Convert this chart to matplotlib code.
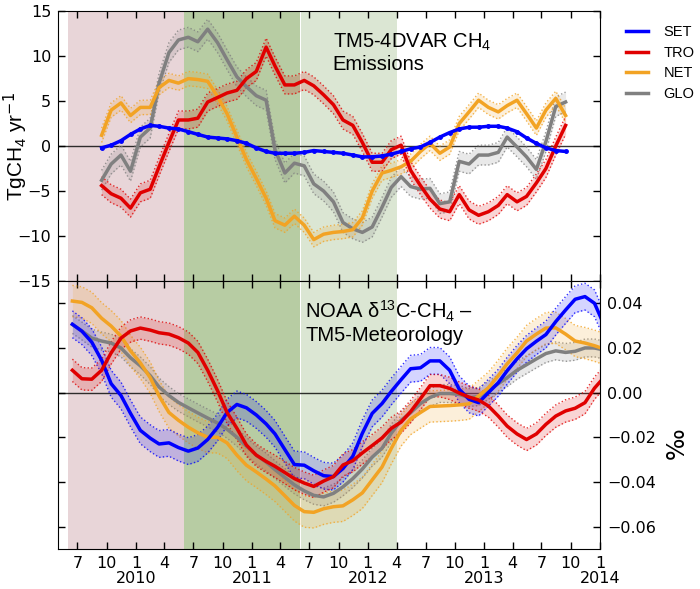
import numpy as np
import pandas as pd
import matplotlib
matplotlib.use("Agg")
import matplotlib.pyplot as plt
import matplotlib.dates as mdates
from matplotlib.ticker import FuncFormatter

plt.rcParams['mathtext.fontset'] = 'custom'
plt.rcParams['mathtext.rm'] = 'Liberation Sans'
plt.rcParams['mathtext.it'] = 'Liberation Sans:italic'

# --- top panel: TM5-4DVAR emission anomalies (TgCH4/yr), monthly from Sep 2009
top_start = '2009-09-01'
set_top = [-0.2, 0.1, 0.6, 1.3, 1.9, 2.3, 2.2, 2.0, 1.9, 1.6, 1.3, 1.0, 0.9, 0.8, 0.6, 0.3,
           -0.2, -0.6, -0.8, -0.8, -0.8, -0.7, -0.5, -0.6, -0.7, -0.8, -1.0, -1.2, -1.2, -1.1,
           -0.9, -0.6, -0.3, -0.1, 0.4, 1.0, 1.5, 1.9, 2.1, 2.1, 2.2, 2.2, 2.0, 1.6, 0.9, 0.3,
           -0.2, -0.5, -0.6]
tro_top = [-4.4, -5.3, -5.8, -6.9, -5.2, -4.8, -2.3, 0.4, 2.9, 2.9, 3.1, 4.9, 5.4, 5.9, 6.2, 7.5,
           8.3, 11.0, 8.9, 6.8, 6.8, 7.3, 6.7, 5.7, 4.6, 2.9, 2.3, 0.4, -1.8, -1.8,
           -0.4, 0.1, -2.7, -4.4, -5.9, -7.0, -7.3, -5.4, -7.1, -7.7, -7.3, -6.6, -5.4, -6.2, -5.6, -4.1,
           -2.5, 0.0, 2.3]
net_top = [1.2, 4.0, 4.8, 3.4, 4.3, 4.3, 6.5, 7.3, 7.0, 7.5, 7.4, 7.2, 5.5, 3.6, 1.0, -1.5,
           -3.6, -5.8, -8.3, -8.8, -7.8, -8.8, -10.4, -9.8, -9.6, -9.5, -9.3, -8.0, -5.0, -3.0,
           -2.7, -2.3, -1.7, -0.6, 0.3, -0.8, -0.1, 2.5, 3.8, 5.1, 4.3, 3.8, 4.5, 5.1, 3.6, 2.0,
           4.0, 5.3, 3.4]
glo_top = [-3.8, -2.0, -1.0, -2.8, 1.0, 2.0, 7.0, 10.4, 11.8, 12.1, 11.6, 13.0, 11.5, 9.6, 7.7, 6.6,
           5.6, 5.1, -0.4, -3.0, -1.9, -2.2, -4.2, -5.0, -6.2, -8.5, -9.2, -9.6, -9.0, -6.8,
           -4.6, -3.4, -4.5, -4.8, -4.7, -6.4, -6.2, -1.7, -2.0, -1.0, -1.0, -0.7, 1.0, -0.1, -1.2, -2.6,
           0.5, 4.4, 4.9]
tro_top_err, net_top_err, glo_top_err = 1.0, 0.8, 1.1

# --- bottom panel: NOAA d13C-CH4 minus TM5 meteorology (permil), monthly from Jun 2009
bot_start = '2009-06-01'
set_bot = [0.0306, 0.0275, 0.0226, 0.0145, 0.0040, -0.0013, -0.0093, -0.0169, -0.0204, -0.0230,
           -0.0225, -0.0246, -0.0262, -0.0248, -0.0210, -0.0156, -0.0089, -0.0053, -0.0068, -0.0100,
           -0.0140, -0.0185, -0.0255, -0.0322, -0.0325, -0.0350, -0.0372, -0.0376, -0.0340, -0.0285,
           -0.0182, -0.0093, -0.0049, 0.0005, 0.0058, 0.0107, 0.0111, 0.0142, 0.0142, 0.0100,
           0.0015, -0.0030, -0.0045, 0.0000, 0.0044, 0.0098, 0.0151, 0.0196, 0.0230, 0.0260,
           0.0318, 0.0370, 0.0418, 0.0430, 0.0400, 0.0300]
tro_bot = [0.0100, 0.0062, 0.0060, 0.0100, 0.0178, 0.0244, 0.0276, 0.0289, 0.0280, 0.0268,
           0.0262, 0.0246, 0.0222, 0.0180, 0.0100, 0.0009, -0.0089, -0.0160, -0.0235, -0.0280,
           -0.0308, -0.0330, -0.0358, -0.0385, -0.0405, -0.0420, -0.0396, -0.0376, -0.0324, -0.0305,
           -0.0270, -0.0237, -0.0203, -0.0160, -0.0132, -0.0085, -0.0027, 0.0031, 0.0031, 0.0019,
           -0.0002, -0.0020, -0.0033, -0.0060, -0.0105, -0.0150, -0.0185, -0.0210, -0.0185, -0.0142,
           -0.0105, -0.0082, -0.0070, -0.0045, 0.0020, 0.0070]
net_bot = [0.0410, 0.0404, 0.0380, 0.0333, 0.0298, 0.0253, 0.0187, 0.0133, 0.0067, -0.0015,
           -0.0089, -0.0124, -0.0155, -0.0180, -0.0200, -0.0200, -0.0225, -0.0280, -0.0325, -0.0355,
           -0.0387, -0.0418, -0.0462, -0.0505, -0.0533, -0.0536, -0.0520, -0.0511, -0.0507, -0.0480,
           -0.0449, -0.0391, -0.0333, -0.0250, -0.0169, -0.0118, -0.0089, -0.0062, -0.0060, -0.0058,
           -0.0055, -0.0050, -0.0015, 0.0022, 0.0076, 0.0129, 0.0178, 0.0231, 0.0262, 0.0289,
           0.0290, 0.0262, 0.0231, 0.0222, 0.0210, 0.0195]
glo_bot = [0.0305, 0.0276, 0.0244, 0.0231, 0.0222, 0.0200, 0.0156, 0.0120, 0.0076, 0.0025,
           -0.0013, -0.0044, -0.0068, -0.0091, -0.0114, -0.0136, -0.0164, -0.0200, -0.0240, -0.0280,
           -0.0311, -0.0345, -0.0380, -0.0413, -0.0440, -0.0460, -0.0467, -0.0451, -0.0422, -0.0385,
           -0.0342, -0.0289, -0.0249, -0.0182, -0.0124, -0.0090, -0.0049, -0.0022, -0.0004, -0.0004,
           -0.0008, -0.0022, -0.0018, 0.0010, 0.0040, 0.0067, 0.0100, 0.0125, 0.0151, 0.0175,
           0.0187, 0.0180, 0.0185, 0.0200, 0.0200, 0.0190]
set_bot_err, tro_bot_err, net_bot_err, glo_bot_err = 0.006, 0.005, 0.007, 0.004

# shaded periods
periods = [('2009-06-01', '2010-06-01', '#E8D5D8'),
           ('2010-06-01', '2011-06-01', '#B7CCA3'),
           ('2011-06-04', '2012-04-01', '#DBE6D3')]

c_set, c_tro, c_net, c_glo = '#0000FF', '#E00000', '#F2A324', '#808080'


def months(start, n):
    return pd.date_range(start, periods=n, freq='MS') + pd.Timedelta(days=14)


def draw(ax, t, y, err, color, label):
    y = np.array(y)
    if err:
        ax.fill_between(t, y - err, y + err, color=color, alpha=0.17, lw=0, zorder=2)
        ax.plot(t, y - err, ':', color=color, lw=1, alpha=0.8, zorder=2)
        ax.plot(t, y + err, ':', color=color, lw=1, alpha=0.8, zorder=2)
    return ax.plot(t, y, color=color, lw=2.5, label=label, zorder=3)[0]


fig = plt.figure(figsize=(7, 5.89), dpi=100)
ax1 = fig.add_axes([0.083, 0.523, 0.774, 0.458])
ax2 = fig.add_axes([0.083, 0.068, 0.774, 0.455], sharex=ax1)

for ax in (ax1, ax2):
    for a, b, c in periods:
        ax.axvspan(pd.Timestamp(a), pd.Timestamp(b), color=c, lw=0, zorder=0)
    ax.axhline(0, color='k', lw=1, alpha=0.8, zorder=1)

tt = months(top_start, len(tro_top))
h_glo = draw(ax1, tt, glo_top, glo_top_err, c_glo, 'GLO')
h_net = draw(ax1, tt, net_top, net_top_err, c_net, 'NET')
h_tro = draw(ax1, tt, tro_top, tro_top_err, c_tro, 'TRO')
h_set = draw(ax1, tt, set_top, 0, c_set, 'SET')
ax1.plot(tt, set_top, '.', color=c_set, ms=5, zorder=3)

tb = months(bot_start, len(tro_bot))
draw(ax2, tb, glo_bot, glo_bot_err, c_glo, 'GLO')
draw(ax2, tb, net_bot, net_bot_err, c_net, 'NET')
draw(ax2, tb, set_bot, set_bot_err, c_set, 'SET')
draw(ax2, tb, tro_bot, tro_bot_err, c_tro, 'TRO')

ax1.set_xlim(pd.Timestamp('2009-05-01'), pd.Timestamp('2014-01-01'))
ax1.set_ylim(-15, 15)
ax1.set_yticks(range(-15, 16, 5))
ax2.set_ylim(-0.07, 0.05)
ax2.set_yticks([-0.06, -0.04, -0.02, 0.0, 0.02, 0.04])
ax2.yaxis.set_major_formatter(FuncFormatter(lambda v, p: f'{v:.2f}'.replace('-', '\u2212')))

ax1.xaxis.set_major_locator(mdates.MonthLocator(bymonth=[1, 4, 7, 10]))


def month_fmt(x, pos):
    d = mdates.num2date(x)
    return f'{d.month}\n{d.year}' if d.month == 1 else str(d.month)


ax1.xaxis.set_major_formatter(FuncFormatter(month_fmt))

for ax in (ax1, ax2):
    ax.tick_params(direction='in', top=True, right=True, bottom=True, left=True,
                   length=5, width=1, labelsize=11.5, pad=5)
ax1.tick_params(labelbottom=False)
ax2.tick_params(labelleft=False, labelright=True)
for lab in ax2.get_xticklabels():
    lab.set_linespacing(1.05)

ax1.set_ylabel('TgCH$_4$ yr$^{\\mathsf{-1}}$', fontsize=15, family='Liberation Sans')
ax1.yaxis.set_label_coords(-0.052, 0.5)
ax2.yaxis.set_label_position('right')
ax2.set_ylabel('‰', fontsize=17, rotation=90)
ax2.yaxis.set_label_coords(1.12, 0.395)

ax1.text(0.507, 0.925, 'TM5-4DVAR CH$_4$\nEmissions', transform=ax1.transAxes,
         fontsize=14.5, va='top', family='Liberation Sans', linespacing=1.15)
ax2.text(0.456, 0.935, 'NOAA δ$^{13}$C-CH$_4$ –\nTM5-Meteorology', transform=ax2.transAxes,
         fontsize=14.5, va='top', family='Liberation Sans', linespacing=1.15)

ax1.legend(handles=[h_set, h_tro, h_net, h_glo], loc='upper left', bbox_to_anchor=(1.037, 0.97),
           frameon=False, prop={'family': 'Liberation Sans', 'size': 10.5},
           handlelength=1.5, handletextpad=1.1, labelspacing=0.45, borderaxespad=0)

fig.savefig('out.png', dpi=100)
